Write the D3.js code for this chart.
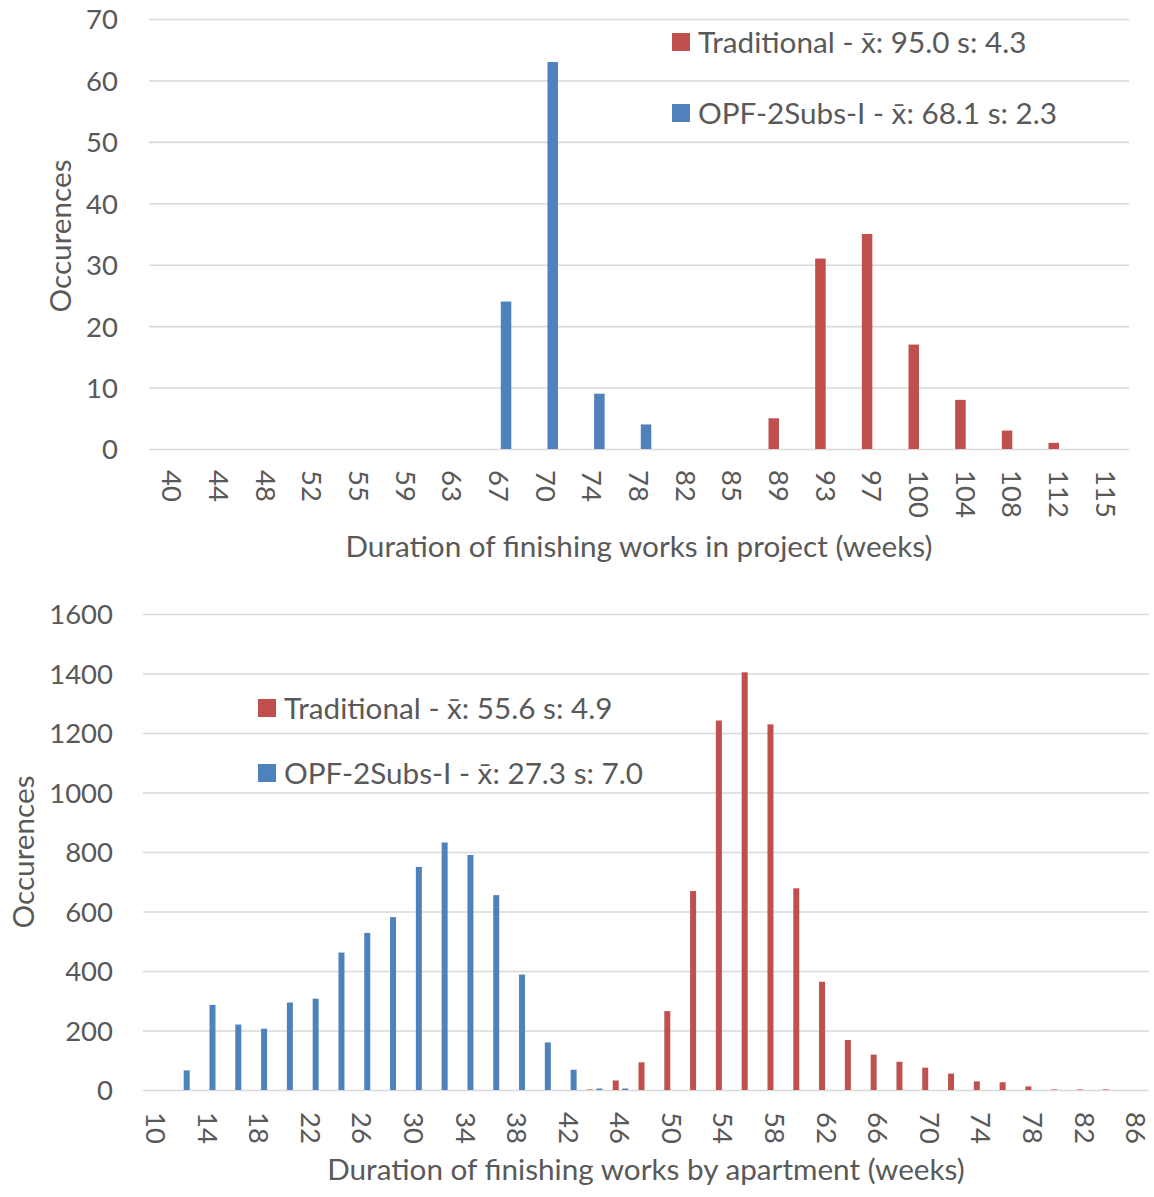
<!DOCTYPE html>
<html>
<head>
<meta charset="utf-8">
<script src="https://cdn.jsdelivr.net/npm/d3@7"></script>
<style>
  html, body { margin: 0; padding: 0; background: #fff; }
  svg { display: block; }
  text { font-family: Lato, "Open Sans", sans-serif; fill: #595959; }
</style>
</head>
<body>
<svg id="chart" width="1154" height="1197"></svg>
<script>
// ---------- Data ----------
const topCategories = ["40","44","48","52","55","59","63","67","70","74","78","82","85","89","93","97","100","104","108","112","115"];
const topTraditional = [0,0,0,0,0,0,0,0,0,0,0,0,0,5,31,35,17,8,3,1,0];
const topOPF         = [0,0,0,0,0,0,0,24,63,9,4,0,0,0,0,0,0,0,0,0,0];
const topYTicks = [0,10,20,30,40,50,60,70];
const topLegend = ["Traditional - x\u0304: 95.0 s: 4.3", "OPF-2Subs-I - x\u0304: 68.1 s: 2.3"];

const botCategories = ["10","12","14","16","18","20","22","24","26","28","30","32","34","36","38","40","42","44","46","48","50","52","54","56","58","60","62","64","66","68","70","72","74","76","78","80","82","84","86"];
const botTraditional = [0,0,0,0,0,0,0,0,0,0,0,0,0,0,0,0,0,2,32,93,265,669,1242,1404,1229,678,364,168,119,95,75,55,29,26,12,2,2,2,0];
const botOPF         = [0,66,286,220,206,294,307,462,528,581,750,832,790,655,388,160,68,5,5,0,0,0,0,0,0,0,0,0,0,0,0,0,0,0,0,0,0,0,0];
const botXLabels = ["10","14","18","22","26","30","34","38","42","46","50","54","58","62","66","70","74","78","82","86"];
const botYTicks = [0,200,400,600,800,1000,1200,1400,1600];
const botLegend = ["Traditional - x\u0304: 55.6 s: 4.9", "OPF-2Subs-I - x\u0304: 27.3 s: 7.0"];

const RED = "#C0504D", BLUE = "#4F81BD", GRID = "#D9D9D9";
const TICK_FONT = 27.5;
const TEXT_FONT = 29.7;

const svg = d3.select("#chart");

function drawChart(cfg) {
  const g = svg.append("g");
  const x = d3.scaleBand().domain(cfg.categories).range([cfg.left, cfg.right]).paddingInner(0).paddingOuter(0);
  const y = d3.scaleLinear().domain([0, cfg.yMax]).range([cfg.bottom, cfg.top]);

  // gridlines + y labels
  const yAxis = d3.axisLeft(y).tickValues(cfg.yTicks).tickFormat(d3.format("d"))
    .tickSize(-(cfg.right - cfg.left)).tickPadding(cfg.left - cfg.yLabelX);
  const ya = g.append("g").attr("transform", `translate(${cfg.left},0)`).call(yAxis);
  ya.select(".domain").remove();
  ya.selectAll(".tick line").attr("stroke", GRID).attr("stroke-width", 1.6);
  ya.selectAll(".tick text").attr("font-size", TICK_FONT).attr("fill", "#595959")
    .attr("font-family", "Lato").attr("dy", "0.36em");

  // x labels
  const xAxis = d3.axisBottom(x).tickValues(cfg.xLabels).tickSize(0).tickPadding(0);
  const xa = g.append("g").attr("transform", `translate(0,${cfg.xLabelY})`).call(xAxis);
  xa.select(".domain").remove();
  xa.selectAll(".tick text").attr("font-size", TICK_FONT).attr("fill", "#595959").attr("font-family", "Lato")
    .attr("transform", "rotate(90)").attr("text-anchor", "start").attr("x", 0).attr("y", 0).attr("dy", "0.36em");

  // bars
  const bw = cfg.barW;
  const cx = c => x(c) + x.bandwidth() / 2;
  g.append("g").selectAll("rect").data(cfg.categories.map((c, i) => ({c, v: cfg.trad[i]})).filter(d => d.v > 0))
    .join("rect").attr("fill", RED)
    .attr("x", d => cx(d.c) + cfg.redOff).attr("width", bw)
    .attr("y", d => y(d.v)).attr("height", d => y(0) - y(d.v));
  g.append("g").selectAll("rect").data(cfg.categories.map((c, i) => ({c, v: cfg.opf[i]})).filter(d => d.v > 0))
    .join("rect").attr("fill", BLUE)
    .attr("x", d => cx(d.c) + cfg.blueOff).attr("width", bw)
    .attr("y", d => y(d.v)).attr("height", d => y(0) - y(d.v));

  // axis titles
  g.append("text").attr("x", (cfg.left + cfg.right) / 2).attr("y", cfg.xTitleY).attr("text-anchor", "middle")
    .attr("font-size", TEXT_FONT).attr("dy", "0.36em").text(cfg.xTitle);
  g.append("text").attr("transform", `translate(${cfg.yTitleX},${cfg.yTitleY}) rotate(-90)`).attr("text-anchor", "middle")
    .attr("font-size", TEXT_FONT).attr("dy", "0.36em").text("Occurences");

  // legend
  const colors = [RED, BLUE];
  cfg.legend.forEach((t, i) => {
    const ly = cfg.legendY[i];
    g.append("rect").attr("x", cfg.legendX).attr("y", ly - 9).attr("width", 18).attr("height", 18).attr("fill", colors[i]);
    g.append("text").attr("x", cfg.legendX + 26).attr("y", ly).attr("dy", "0.36em").attr("font-size", TEXT_FONT).text(t);
  });
}

drawChart({
  categories: topCategories, trad: topTraditional, opf: topOPF,
  xLabels: topCategories, yTicks: topYTicks, yMax: 70,
  left: 149, right: 1129, top: 19, bottom: 449,
  yLabelX: 118, xLabelY: 470, barW: 10.5, redOff: -10.5, blueOff: 1.8,
  xTitle: "Duration of finishing works in project (weeks)", xTitleY: 546,
  yTitleX: 60, yTitleY: 236,
  legend: topLegend, legendX: 672, legendY: [42, 113]
});

drawChart({
  categories: botCategories, trad: botTraditional, opf: botOPF,
  xLabels: botXLabels, yTicks: botYTicks, yMax: 1600,
  left: 143, right: 1149, top: 614, bottom: 1090,
  yLabelX: 113, xLabelY: 1112, barW: 6, redOff: -7.5, blueOff: 2,
  xTitle: "Duration of finishing works by apartment (weeks)", xTitleY: 1169,
  yTitleX: 23, yTitleY: 852,
  legend: botLegend, legendX: 258, legendY: [708, 773]
});
</script>
</body>
</html>
